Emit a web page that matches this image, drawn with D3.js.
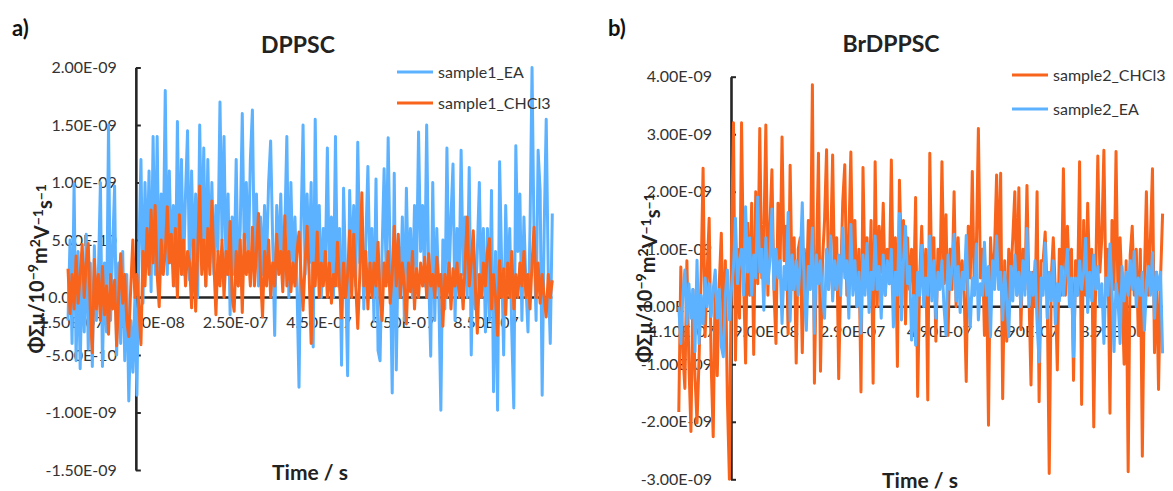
<!DOCTYPE html>
<html>
<head>
<meta charset="utf-8">
<script src="https://cdn.jsdelivr.net/npm/d3@7"></script>
<style>
  html, body { margin: 0; padding: 0; background: #fff; }
  svg { display: block; }
  text { font-family: Lato, "Open Sans", sans-serif; }
</style>
</head>
<body>
<svg id="chart" width="1173" height="491"></svg>
<script>
// ---------------- DATA (values in units of 1e-10) ----------------
const UNIT = 1e-10;

const sample1_EA = [
  -2, 5, -4, 9.9, -5.5, 4, -6.2, 3, -3, 5.5,
  -4.5, 3, -6, 4.5, -2, 2, 10, -6, 3, -3,
  15, -2, 4, 9.7, -5, 3, -4, 4, -5.5, 2,
  -9, -2, -6.5, 0, -8.5, 4, 12, -0.5, 10, 3,
  11, 0.5, 14, 2, 14, 1, 9, 4, 18, 2,
  11, 3, 8, 1, 15.3, 3, 12, 2, 9, 14.5,
  1.5, 11, 3, 9, 0, 15, 4, 13, 1, 12,
  3, 10, 2, 8, 4, 17, 5, 14, 2, 9,
  -1.5, 7, 2, 12, 1, 6, 16, 4, 10, 3,
  12, 16.3, 3, 9, 1, 7, 2, 8, 3, 10,
  13.6, 5, -3.3, 8, 3, 9, 1, 6, 14, 0,
  10, 2, 7, 1, -7.8, 6, 15, 2, 9, 3,
  10, -4.3, 15.5, 2, 8, 0, 6, 3, 13, 1,
  7, 0, 14, 1, 6, -5.9, 9.5, 2, -6.8, 9.3,
  2, 8, 1, 13.5, 3, 7, -1, 5, 11.4, 2,
  6, -2, 10.3, -4.6, -5.5, 4, 11.2, 2, 13.9, 3,
  -8.3, 10.8, -6.3, 5, 0, 7, -2, 9.5, 1, 6,
  0, 8, 2, 14.4, 4, 8, 1, 15, 2, -5.1,
  10, -2, 6, 0, -9.8, 5, -1, 13, 1, 7,
  11.6, -2, 6, 1, 12.8, 2, 7, 0, 11.3, -5,
  5, -1, 4, 10, 0, 6, -3, 6, -2, 9.3,
  -8.2, 4, -9.8, 11.8, 3, -5, 8, 1, 6, -3,
  -9.6, 13.2, 4, 9, -2, 7, 1, -3, 6, 20,
  5, -2, 12.8, 9.3, -8.5, 6, 15.5, 2, -4, 7.3
];

const sample1_CHCl3 = [
  2.5, -1.4, 2, -1, 3.6, -0.5, 2, 4.6, 0, 3,
  4.7, -1, -4.8, 3.3, -1, 2, -2, 2.7, -1.5, 1,
  -3.2, 2, -1, 1.5, -4.2, 0, 3.8, -0.5, 2, -2,
  -3.4, 1, 5, 0, 2, -1, -4.1, 4, 1, 6,
  2, 7.6, 3, 8, 2, -0.8, 5, 2, 4, 7.9,
  3, 5.5, 1, 6, 0, 7.2, 2, 5, 1, 4,
  3, -0.9, 5, -1.2, 4, 9.7, 2, 5, 1, 6,
  2, 8.4, 3, -1.5, 4, 1, 5, 0, 4, 2,
  6.6, 0, -1.2, 4, 1, 5, -1.3, 5.5, 2, 4,
  1, 6.1, 1, 4, 7.3, 2, -1.7, 4, 1, 5,
  0, 3, 1, 5.5, 2, 4, 0.5, 7.1, 1, 4,
  0.5, 3, 1, 4, 5.7, 2, -1.1, 3, 6.2, 2,
  -4, 3, 1, 5.7, 0, 3, 1, 4, 0, 3,
  -0.5, 2, 1, 4.8, 1, -1.8, 3, 0, 2, 5.8,
  0, 5.5, 1, -2.7, 2, 9.1, 1, 4, -1, 3,
  0, 3, 1, 4.8, 0, -2, 3, 1, 4, -0.5,
  2, 6.2, 1, 5.5, 0, 3, 1, -2.3, 3, 0.5,
  4, -1, 2.5, 0, 3, 1, 3.5, 0, 3.8, 1,
  2, 0, 3.5, 1, 2, -2.5, 2, 0, 3, -1,
  2.5, 1, 3, 0, 2, -1, 3, 7.0, 1, 3,
  5.8, 1, -3.1, 2, 0, 3, 1, 4, 5.1, -1,
  2, 0, -3.3, 3.2, 0, 2.5, -1.5, 3, 0, 4,
  -1, 2, 0, 3, 1, 4, 0, 2, -1, 3,
  6.1, 0, 3, -0.5, 2, 0, -1.7, 2, 0, 1.5
];

const sample2_CHCl3 = [
  -18.3, 6.9, -8, -14.2, 8, -10, -21.7, 3, -12, -20.2,
  -9.3, 5, 24.1, -5.2, 6, 15.4, -10, -22.6, 5, -12,
  4, 12.8, -6, 8, -16, -30, 10, 32, -9.3, 10,
  -2, 32, 5, -9.8, 14.5, 2, 18, -8.3, 20, 4,
  31, 5, 12, 31.6, 2, 14, 23.8, 3, -6.4, 18,
  6, 29.5, 8, 14, -4.7, 24.6, 3, 12, -9.8, 10,
  12, -8, 10, 2, 15, 5, 38.6, -13.3, 8, 26.7,
  -11.2, 8, 15, 27.3, 3, 10, 26.4, 3, 12, -12.5,
  5, 18.3, 24.7, 2, 12, 26.9, 5, 15, 0, 10,
  -14.8, 24.2, 4, 12, 2, 15, -13.3, 25.2, 0, 14,
  6, 18, 2, 10, 4, 25.5, 2, 12, -10.4, 22,
  8, 15, -3, 12, 3, 10, 2, 19, -15.6, 5,
  14, 2, 10, -16.2, 26.7, 3, 12, -6, 10, 4,
  25.2, 4, 16, -5, 10, 3, 20, 0, 12, 2,
  8, 2, -13, 14, 5, 23.5, 2, 10, 31, 5,
  10, -5, 6, -20.6, 12, 4, 10, 22.9, 5, 23.2,
  -16, 8, -6, 10, 5, 12, 20, 2, 20.7, -4,
  10, 3, 21.1, 2, -13.6, 6, 0, 20, -16.5, 8,
  8, 13, 2, -29, 5, 12, 3, -11, 10, 2,
  24, 2, 14, 4, 10, -12.8, 8, 2, 25.2, -17,
  15, 2, 18, 4, 10, -20.9, 6, 26.2, 6, 12,
  27.2, 3, 10, -18.5, 15, 3, 27, 0, 12, 2,
  -10, 8, -28.7, 9, 14, 2, 10, -5, 10, -26,
  5, 20, 2, 12, 24, -8, 6, -14.4, 5, 16.2
];

const sample2_EA = [
  0, -6.4, 2, 6.4, -3, 4, -2, 3, -7.8, 8.1,
  -6.4, 2, -3, 5, 0, 4, -1.7, 3, 6.4, -2,
  3, -6.9, -8.7, 2, 6.4, -2.3, 3, 6.9, 15.4, 4,
  8, 10, 2, 17.4, 6, 12, 2, 9, 5, 19.1,
  6, 10, -0.6, 12, 4, 8, 17, 3, 10, 5,
  8, -2.9, 7, 3, 16.4, -2.5, 9, 3, 8, 2,
  8, 18.1, 3, -4.1, 7, 3, 13.7, -4.6, 9, 4,
  8, 2, -2, 10, 3, 12.3, 1, 8, 3, 9,
  2, 13.7, 5, 8, -2, 14.3, 2, 8, 0, 6,
  -4.6, 9, 2, 11, -1, 6, 3, 12.3, 3, 7,
  -2, 9, 2, 8, 4, 10, -3.5, 6, 2, 16.2,
  -2.3, 8, 14, 4, 7, -5.8, 2, -6.7, 6, 2,
  10.7, 0, 5, 2, 12.3, 1, 8, -2, 6, 3,
  8, 0, -4.9, 9, 3, 7, 12.6, 1, 7, -1,
  6, 3, 12.4, 2, -3.5, 5, 2, 10.9, -2.3, 4,
  2, 11.2, 2, 7, -5.2, 8, 3, 12.3, 3, 6,
  -2.3, 6, 1, -5.2, 7, 1, 9, 2, 6, 0,
  8, 2, 13.6, 0, 6, 2, 8, -3, -9.6, 5,
  2, 11.1, -2, 6, 1, 8, -3, 4, 1, 7,
  2, 6, 10, 0, 5, -8.7, 5, 2, 8, 3,
  6, 11.9, -1, 6, 1, 9, 3, 7, 0, 4,
  -6.4, 5, 2, 10.9, 3, -7.8, 4, 1, -6.4, 7,
  1, 6, 2, 8, 3, 9.6, 0, 5, 2, 6,
  -4.1, 3, 7, 2, 9.4, -2, 6, 3, 6, -8.1
];

// time span of each record (s)
const timeSpanA = [-1.5e-7, 1.01e-6];
const timeSpanB = [-1.1e-7, 1.006e-6];

// tick values / labels
const yTicksA = [-1.5e-9, -1.0e-9, -5e-10, 0, 5e-10, 1.0e-9, 1.5e-9, 2.0e-9];
const yTickLabelsA = ["-1.50E-09", "-1.00E-09", "-5.00E-10", "0.00E+00", "5.00E-10", "1.00E-09", "1.50E-09", "2.00E-09"];
const xTicksA = [-1.5e-7, 5e-8, 2.5e-7, 4.5e-7, 6.5e-7, 8.5e-7];
const xTickLabelsA = ["-1.50E-07", "5.00E-08", "2.50E-07", "4.50E-07", "6.50E-07", "8.50E-07"];

const yTicksB = [-3e-9, -2e-9, -1e-9, 0, 1e-9, 2e-9, 3e-9, 4e-9];
const yTickLabelsB = ["-3.00E-09", "-2.00E-09", "-1.00E-09", "0.00E+00", "1.00E-09", "2.00E-09", "3.00E-09", "4.00E-09"];
const xTicksB = [-1.1e-7, 9e-8, 2.9e-7, 4.9e-7, 6.9e-7, 8.9e-7];
const xTickLabelsB = ["-1.10E-07", "9.00E-08", "2.90E-07", "4.90E-07", "6.90E-07", "8.90E-07"];

const COLOR_EA = "#5CB2FF";
const COLOR_CHCL3 = "#F8641B";

// ---------------- LAYOUT ----------------
const panels = [
  {
    tag: "a)", tagX: 12, tagY: 36,
    title: "DPPSC", titleX: 298, titleY: 53,
    xDomain: [-1.5e-7, 8.5e-7], xRange: [68, 485.5],
    yDomain: [-1.5e-9, 2e-9], yRange: [470, 67.5],
    yTicks: yTicksA, yLabels: yTickLabelsA,
    xTicks: xTicksA, xLabels: xTickLabelsA,
    crossT: 1.25e-8,
    span: timeSpanA,
    series: [
      { name: "sample1_EA", values: sample1_EA, color: COLOR_EA },
      { name: "sample1_CHCl3", values: sample1_CHCl3, color: COLOR_CHCL3 }
    ],
    legX: 397, legY: [72, 103],
    yTitleX: 44, xTitleX: 310, xTitleY: 480
  },
  {
    tag: "b)", tagX: 608, tagY: 36,
    title: "BrDPPSC", titleX: 891, titleY: 52,
    xDomain: [-1.1e-7, 8.9e-7], xRange: [678.8, 1112.3],
    yDomain: [-3e-9, 4e-9], yRange: [479.3, 76.7],
    yTicks: yTicksB, yLabels: yTickLabelsB,
    xTicks: xTicksB, xLabels: xTickLabelsB,
    crossT: 1.04e-8,
    span: timeSpanB,
    series: [
      { name: "sample2_CHCl3", values: sample2_CHCl3, color: COLOR_CHCL3 },
      { name: "sample2_EA", values: sample2_EA, color: COLOR_EA }
    ],
    legX: 1012, legY: [75, 109],
    yTitleX: 652, xTitleX: 920, xTitleY: 488
  }
];

const svg = d3.select("#chart");
const INK = "#262626";
const TICK_FONT = 16;

panels.forEach(p => {
  const x = d3.scaleLinear().domain(p.xDomain).range(p.xRange);
  const y = d3.scaleLinear().domain(p.yDomain).range(p.yRange);
  const g = svg.append("g");
  const axisX = x(p.crossT);
  const y0 = y(0);

  const n = p.series[0].values.length;
  const tAt = d3.scaleLinear().domain([0, n - 1]).range(p.span);
  const tEnd = p.span[1];

  // y axis
  const yAxis = d3.axisLeft(y)
    .tickValues(p.yTicks)
    .tickFormat((d, i) => p.yLabels[i])
    .tickSizeInner(-5)
    .tickSizeOuter(0)
    .tickPadding(19);
  const ya = g.append("g").attr("transform", `translate(${axisX},0)`).call(yAxis);
  ya.select(".domain").attr("stroke", INK).attr("stroke-width", 2.6);
  ya.selectAll(".tick line").attr("stroke", INK).attr("stroke-width", 2);
  ya.selectAll(".tick text")
    .attr("font-size", TICK_FONT).attr("fill", "#333")
    .attr("font-family", "Lato, 'Open Sans', sans-serif");

  // x axis line at zero
  g.append("line")
    .attr("x1", axisX).attr("x2", x(tEnd))
    .attr("y1", y0).attr("y2", y0)
    .attr("stroke", INK).attr("stroke-width", 2.6);

  // x tick labels via axis (no domain/ticks)
  const xAxis = d3.axisBottom(x)
    .tickValues(p.xTicks)
    .tickFormat((d, i) => p.xLabels[i])
    .tickSize(0)
    .tickPadding(19);
  const xa = g.append("g").attr("transform", `translate(0,${y0})`).call(xAxis);
  xa.select(".domain").remove();
  xa.selectAll(".tick text")
    .attr("font-size", TICK_FONT).attr("fill", "#333")
    .attr("font-family", "Lato, 'Open Sans', sans-serif");

  // series lines
  const line = d3.line()
    .x((d, i) => x(tAt(i)))
    .y(d => y(d * UNIT));
  p.series.forEach(s => {
    g.append("path")
      .datum(s.values)
      .attr("d", line)
      .attr("fill", "none")
      .attr("stroke", s.color)
      .attr("stroke-width", 3)
      .attr("stroke-linejoin", "round");
  });

  // legend
  p.series.forEach((s, i) => {
    g.append("line")
      .attr("x1", p.legX).attr("x2", p.legX + 36)
      .attr("y1", p.legY[i]).attr("y2", p.legY[i])
      .attr("stroke", s.color).attr("stroke-width", 3);
    g.append("text")
      .attr("x", p.legX + 41).attr("y", p.legY[i])
      .attr("dy", "0.35em")
      .attr("font-size", 16).attr("fill", "#333")
      .text(s.name);
  });

  // title
  g.append("text")
    .attr("x", p.titleX).attr("y", p.titleY)
    .attr("text-anchor", "middle")
    .attr("font-size", 23).attr("font-weight", "bold").attr("fill", "#222")
    .text(p.title);

  // panel tag
  g.append("text")
    .attr("x", p.tagX).attr("y", p.tagY)
    .attr("font-size", 22).attr("font-weight", "bold").attr("fill", "#111")
    .text(p.tag);

  // x title
  g.append("text")
    .attr("x", p.xTitleX).attr("y", p.xTitleY)
    .attr("text-anchor", "middle")
    .attr("font-size", 21).attr("font-weight", "bold").attr("fill", "#222")
    .text("Time / s");

  // y title (rotated, with superscripts)
  const cy = (p.yRange[0] + p.yRange[1]) / 2;
  const yt = g.append("text")
    .attr("transform", `translate(${p.yTitleX},${cy}) rotate(-90)`)
    .attr("text-anchor", "middle")
    .attr("font-size", 20).attr("font-weight", "bold").attr("fill", "#222");
  const parts = [
    ["ΦΣμ/10", false], ["\u22129", true], ["m", false], ["2", true],
    ["V", false], ["\u22121", true], ["s", false], ["\u22121", true]
  ];
  let raised = false;
  parts.forEach(([txt, sup]) => {
    const ts = yt.append("tspan").text(txt);
    if (sup && !raised) { ts.attr("dy", "-0.45em").attr("font-size", 14); raised = true; }
    else if (sup && raised) { ts.attr("font-size", 14); }
    else if (!sup && raised) { ts.attr("dy", "0.45em"); raised = false; }
  });
});
</script>
</body>
</html>
